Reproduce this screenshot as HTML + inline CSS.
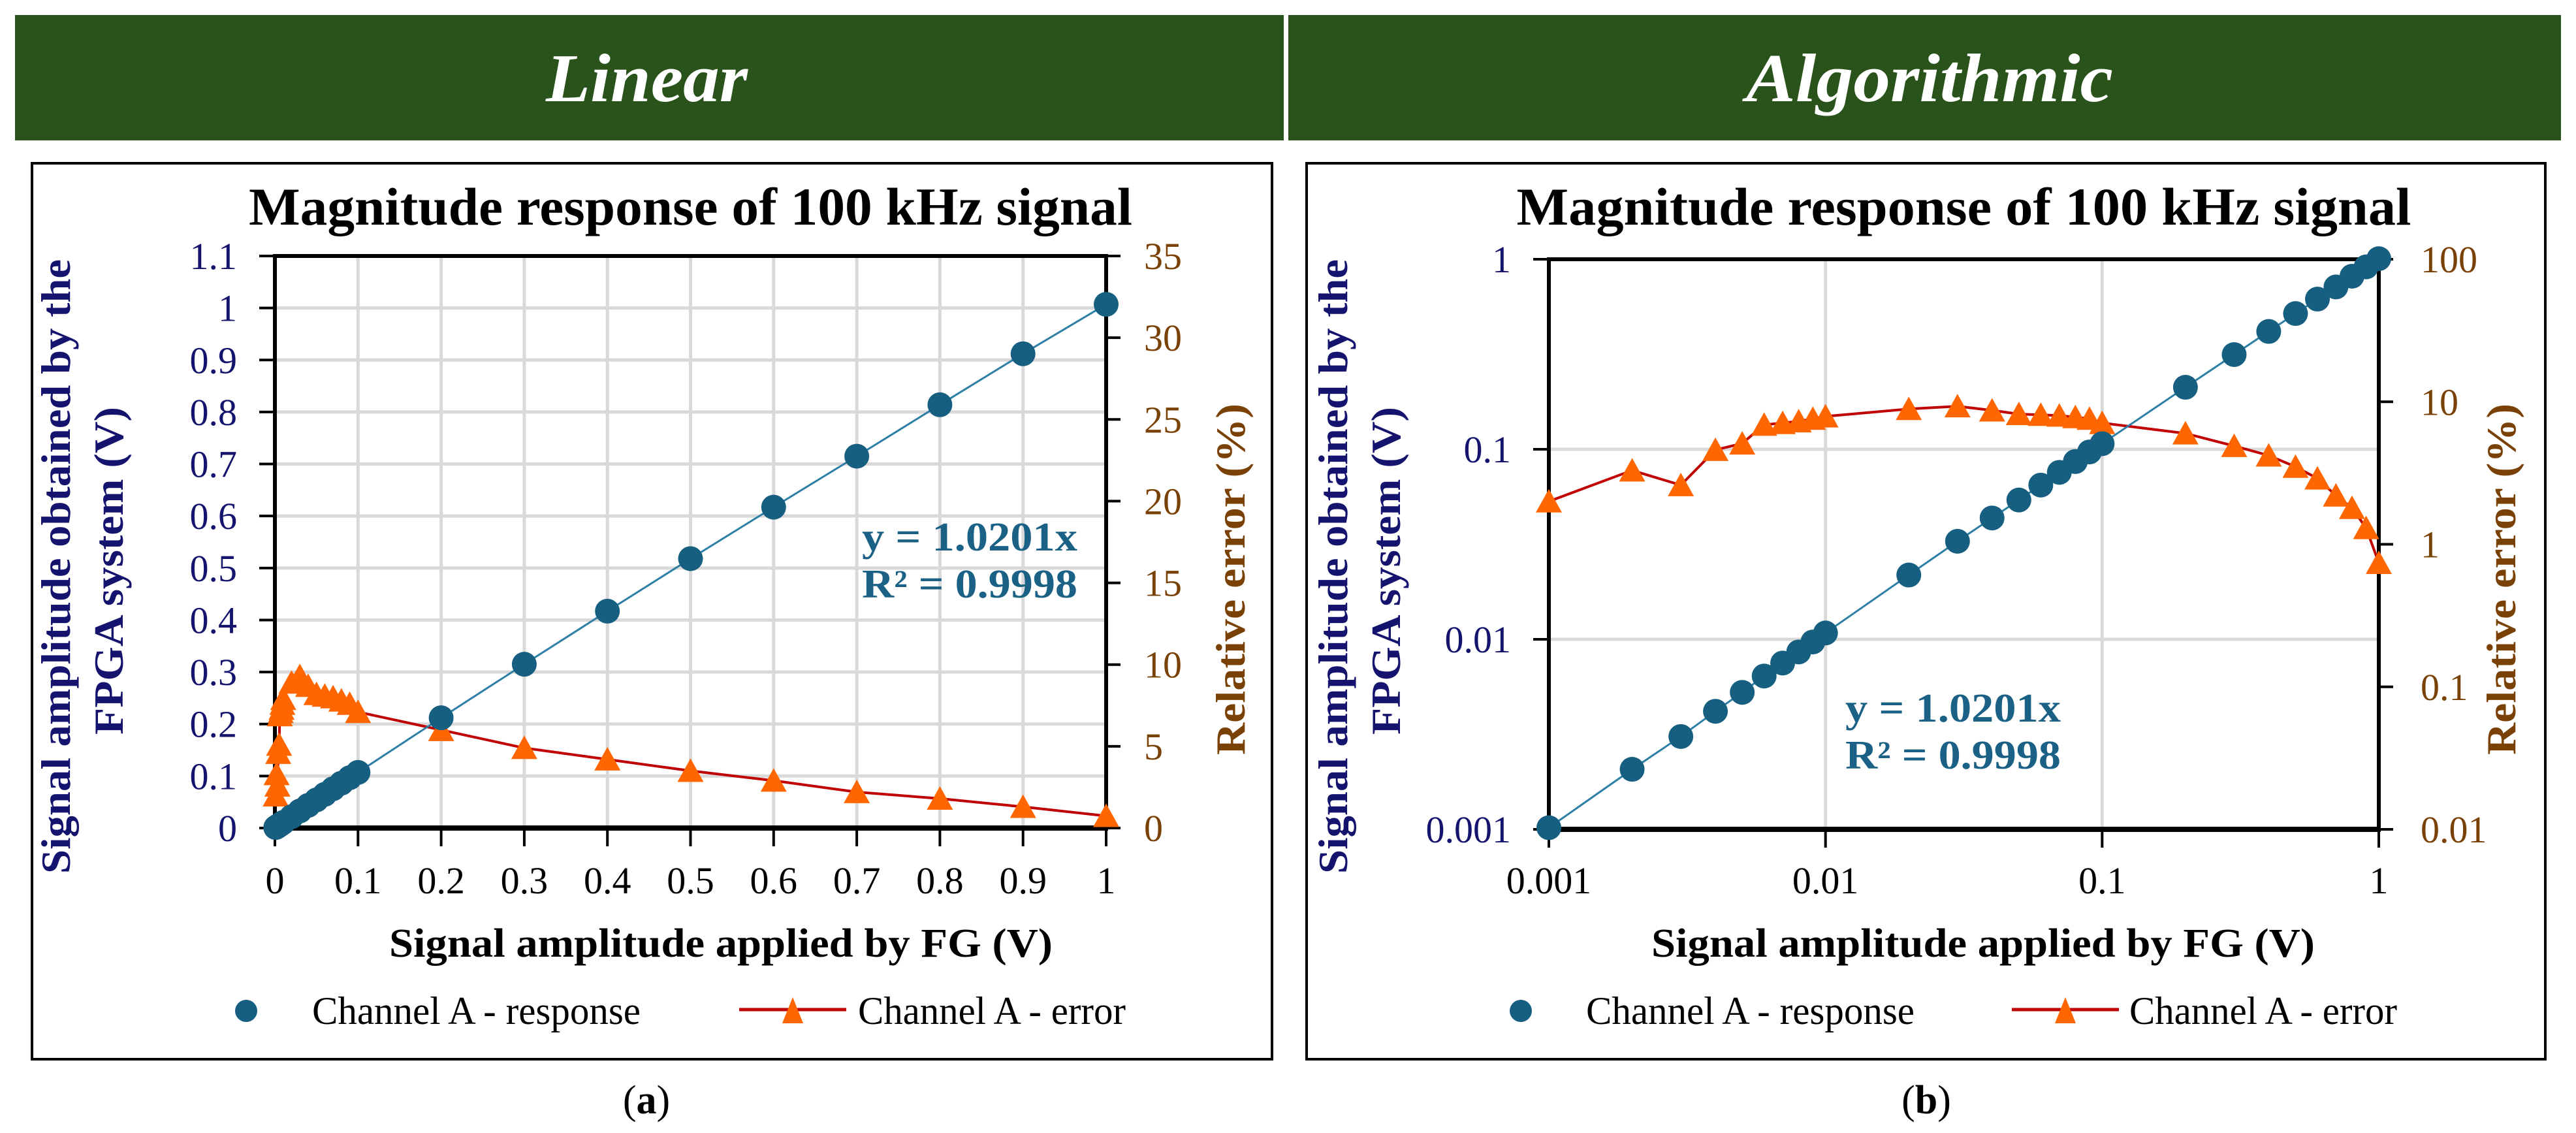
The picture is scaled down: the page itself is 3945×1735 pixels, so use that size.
<!DOCTYPE html>
<html><head><meta charset="utf-8"><style>
html,body{margin:0;padding:0;background:#fff}
svg{display:block}
text{font-family:"Liberation Serif",serif}
</style></head><body>
<svg id="fig" width="3945" height="1735" viewBox="0 0 3945 1735" xmlns="http://www.w3.org/2000/svg">
<rect x="23" y="23" width="1943" height="192" fill="#2a531b"/>
<rect x="1973" y="23" width="1949" height="192" fill="#2a531b"/>
<text x="836" y="155" font-size="105" font-weight="bold" font-style="italic" fill="#fff" textLength="309" lengthAdjust="spacingAndGlyphs">Linear</text>
<text x="2674" y="155" font-size="105" font-weight="bold" font-style="italic" fill="#fff" textLength="562" lengthAdjust="spacingAndGlyphs">Algorithmic</text>
<rect x="49" y="250" width="1899" height="1372" fill="none" stroke="#000" stroke-width="4"/>
<rect x="2001" y="250" width="1897" height="1372" fill="none" stroke="#000" stroke-width="4"/>
<g id="linear"></g>
<g id="logc"></g>
<text x="990" y="1705" font-size="62" text-anchor="middle">(<tspan font-weight="bold">a</tspan>)</text>
<text x="2950" y="1705" font-size="62" text-anchor="middle">(<tspan font-weight="bold">b</tspan>)</text>
</svg>
<script>
const xValues=[0.001,0.002,0.003,0.004,0.005,0.006,0.007,0.008,0.009,0.01,0.02,0.03,0.04,0.05,0.06,0.07,0.08,0.09,0.1,0.2,0.3,0.4,0.5,0.6,0.7,0.8,0.9,1];
const responseValues=[0.00102,0.00207,0.00308,0.00418,0.00526,0.00641,0.0075,0.00858,0.00968,0.0108,0.0218,0.0328,0.0435,0.0541,0.0648,0.0756,0.0862,0.0968,0.107,0.212,0.315,0.417,0.518,0.617,0.715,0.814,0.912,1.007];
const errorValues=[2.0,3.3,2.6,4.6,5.1,6.9,7.1,7.3,7.6,7.9,8.9,9.3,8.7,8.2,8.1,8.0,7.8,7.6,7.1,6.0,4.9,4.2,3.5,2.9,2.2,1.8,1.3,0.74];
const linXTicks=[0,0.1,0.2,0.3,0.4,0.5,0.6,0.7,0.8,0.9,1];
const linYTicks=[0,0.1,0.2,0.3,0.4,0.5,0.6,0.7,0.8,0.9,1,1.1];
const linY2Ticks=[0,5,10,15,20,25,30,35];
const logXTicks=[0.001,0.01,0.1,1];
const logYTicks=[0.001,0.01,0.1,1];
const logY2Ticks=[0.01,0.1,1,10,100];

const NS="http://www.w3.org/2000/svg";
function mk(parent,tag,attrs,txt){const e=document.createElementNS(NS,tag);for(const k in attrs)e.setAttribute(k,attrs[k]);if(txt!==undefined)e.textContent=txt;parent.appendChild(e);return e;}
const NAVY="#14146e",BROWN="#7a4106",TEAL="#175f80",RED="#c00000",ORANGE="#ff6600";
function fmt(v){return String(v);}

function drawChart(g,o){
  const {L,R,T,B,sx,sy,sy2,xt,yt,y2t,vgrid,hgrid,boxL,eq}=o;
  vgrid.forEach(v=>{const l=mk(g,'line',{x1:sx(v),x2:sx(v),y1:T,y2:B,stroke:'#d9d9d9','stroke-width':5});
    
    });
  hgrid.forEach(v=>{const l=mk(g,'line',{x1:L,x2:R,y1:sy(v),y2:sy(v),stroke:'#d9d9d9','stroke-width':5});
    
    });
  const f=mk(g,'rect',{x:L,y:T,width:R-L,height:B-T,fill:'none',stroke:'#000','stroke-width':6});
  
  
  mk(g,'line',{x1:L-3,x2:R+3,y1:B,y2:B,stroke:'#000','stroke-width':8});
  xt.forEach(v=>{const x=sx(v);mk(g,'line',{x1:x,x2:x,y1:B,y2:B+28,stroke:'#000','stroke-width':4});
    const t=mk(g,'text',{x:x,y:1368,'font-size':58,'text-anchor':'middle',fill:'#000'},fmt(v));
    
    });
  yt.forEach(v=>{const y=sy(v);mk(g,'line',{x1:L-24,x2:L,y1:y,y2:y,stroke:'#000','stroke-width':4});
    const t=mk(g,'text',{x:L-58,y:y+20,'font-size':58,'text-anchor':'end',fill:NAVY},fmt(v));
    
    });
  y2t.forEach(v=>{const y=sy2(v);mk(g,'line',{x1:R,x2:R+22,y1:y,y2:y,stroke:'#000','stroke-width':4});
    const t=mk(g,'text',{x:R+o.y2off,y:y+20,'font-size':58,'text-anchor':'start',fill:BROWN},fmt(v));
    
    });
  let d1='',d2='';
  xValues.forEach((x,i)=>{d1+=(i?'L':'M')+sx(x).toFixed(1)+','+sy(responseValues[i]).toFixed(1);
    d2+=(i?'L':'M')+sx(x).toFixed(1)+','+sy2(errorValues[i]).toFixed(1);});
  const el=mk(g,'path',{d:d2,fill:'none',stroke:RED,'stroke-width':4});
  
  
  xValues.forEach((x,i)=>{const cx=sx(x),cy=sy2(errorValues[i]);
    const p=mk(g,'polygon',{points:`${cx-20},${cy+17} ${cx+20},${cy+17} ${cx},${cy-19}`,fill:ORANGE});
    
    });
  const rl=mk(g,'path',{d:d1,fill:'none',stroke:'#2e7fa6','stroke-width':3});
  
  
  xValues.forEach((x,i)=>{const c=mk(g,'circle',{cx:sx(x),cy:sy(responseValues[i]),r:19,fill:TEAL});
    
    });
  const cx=(L+R)/2;
  const tt=mk(g,'text',{x:cx-o.tw/2,y:344,'font-size':82,'font-weight':'bold',textLength:o.tw,lengthAdjust:'spacingAndGlyphs'},'Magnitude response of 100 kHz signal');
  
  
  const xt2=mk(g,'text',{x:o.xtc-508,y:1465,'font-size':62,'font-weight':'bold',textLength:1016,lengthAdjust:'spacingAndGlyphs'},'Signal amplitude applied by FG (V)');
  
  
  const y1=mk(g,'text',{x:0,y:0,'font-size':64,'font-weight':'bold',fill:NAVY,textLength:941,lengthAdjust:'spacingAndGlyphs',transform:`translate(${boxL+80},${868+470}) rotate(-90)`},'Signal amplitude obtained by the');
  
  
  const y2=mk(g,'text',{x:0,y:0,'font-size':64,'font-weight':'bold',fill:NAVY,textLength:502,lengthAdjust:'spacingAndGlyphs',transform:`translate(${boxL+161},${874+251}) rotate(-90)`},'FPGA system (V)');
  
  
  const y3=mk(g,'text',{x:0,y:0,'font-size':64,'font-weight':'bold',fill:BROWN,textLength:538,lengthAdjust:'spacingAndGlyphs',transform:`translate(${o.y2x+22},${887+269}) rotate(-90)`},'Relative error (%)');
  
  
  const e1=mk(g,'text',{x:eq.x,y:eq.y,'font-size':62,'font-weight':'bold',fill:'#1a6185',textLength:330,lengthAdjust:'spacingAndGlyphs'},'y = 1.0201x');
  
  
  const e2=mk(g,'text',{x:eq.x,y:eq.y+72,'font-size':62,'font-weight':'bold',fill:'#1a6185',textLength:330,lengthAdjust:'spacingAndGlyphs'},'R² = 0.9998');
  
  
  const lg=o.leg;
  const ld=mk(g,'circle',{cx:lg.dot,cy:1548,r:17,fill:TEAL});
  
  
  const lt1=mk(g,'text',{x:lg.t1,y:1568,'font-size':60,textLength:503,lengthAdjust:'spacingAndGlyphs'},'Channel A - response');
  
  
  mk(g,'line',{x1:lg.l1,x2:lg.l1+164,y1:1546,y2:1546,stroke:RED,'stroke-width':5});
  const lm=(lg.l1+82);
  const lp=mk(g,'polygon',{points:`${lm-16},${1567} ${lm+16},${1567} ${lm},${1527}`,fill:ORANGE});
  
  
  const lt2=mk(g,'text',{x:lg.t2,y:1568,'font-size':60,textLength:410,lengthAdjust:'spacingAndGlyphs'},'Channel A - error');
  
  
}

(function(){
  const L=421,R=1694,T=392,B=1268;
  drawChart(document.getElementById('linear'),{L,R,T,B,
    sx:v=>L+(R-L)*v/1, sy:v=>B-(B-T)*v/1.1, sy2:v=>B-(B-T)*v/35,
    xt:linXTicks, yt:linYTicks, y2t:linY2Ticks,
    vgrid:linXTicks.slice(1,-1), hgrid:linYTicks.slice(1,-1),
    y2off:58, y2x:1884, boxL:27, tw:1353, xtc:1104,
    eq:{x:1320,y:843}, leg:{dot:377,t1:478,l1:1132,t2:1314}});
})();
(function(){
  const L=2372,R=3643,T=397,B=1270;
  const lx=v=>Math.log10(v);
  drawChart(document.getElementById('logc'),{L,R,T,B,
    sx:v=>L+(R-L)*(lx(v)+3)/3, sy:v=>B-(B-T)*(lx(v)+3)/3, sy2:v=>B-(B-T)*(lx(v)+2)/4,
    xt:logXTicks, yt:logYTicks, y2t:logY2Ticks,
    vgrid:logXTicks.slice(1,-1), hgrid:logYTicks.slice(1),
    y2off:64, y2x:3830, boxL:1983, tw:1370, xtc:3037,
    eq:{x:2826,y:1105}, leg:{dot:2329,t1:2429,l1:3081,t2:3261}});
})();
</script>
</body></html>
